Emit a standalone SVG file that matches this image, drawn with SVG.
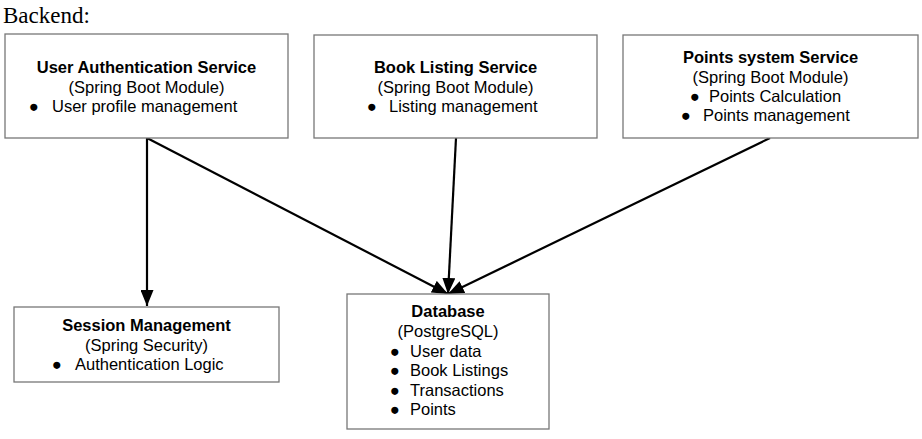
<svg xmlns="http://www.w3.org/2000/svg" width="922" height="439" viewBox="0 0 922 439">
<style>
.box{fill:#fff;stroke:#777;stroke-width:1.3}
text{font-family:"Liberation Sans",Arial,sans-serif;font-size:16.5px;fill:#000}
.t{font-weight:bold;text-anchor:middle}
.c{text-anchor:middle}
.title{font-family:"Liberation Serif","Times New Roman",serif;font-size:23px}
.con{stroke:#000;stroke-width:2.2;fill:none}
</style>
<defs>
<marker id="ah" markerUnits="userSpaceOnUse" markerWidth="17" markerHeight="13" refX="16" refY="6.5" orient="auto">
<path d="M0,0 L16,6.5 L0,13 z" fill="#000"/>
</marker>
</defs>
<text class="title" x="3" y="23">Backend:</text>
<g id="connectors">
<line class="con" x1="147" y1="138" x2="147" y2="306" marker-end="url(#ah)"/>
<line class="con" x1="147" y1="138" x2="448" y2="294" marker-end="url(#ah)"/>
<line class="con" x1="456" y1="138" x2="448" y2="294" marker-end="url(#ah)"/>
<line class="con" x1="770" y1="138" x2="448" y2="294" marker-end="url(#ah)"/>
</g>
<g id="user-auth">
<rect class="box" x="5" y="34" width="283" height="104"/>
<text class="t" x="146.5" y="73">User Authentication Service</text>
<text class="c" x="146.5" y="92.5">(Spring Boot Module)</text>
<text x="29" y="111.5">●</text>
<text x="52" y="111.5">User profile management</text>
</g>
<g id="book-listing">
<rect class="box" x="314" y="35" width="283" height="103"/>
<text class="t" x="455.5" y="73">Book Listing Service</text>
<text class="c" x="455.5" y="92.5">(Spring Boot Module)</text>
<text x="367" y="111.5">●</text>
<text x="389" y="111.5">Listing management</text>
</g>
<g id="points">
<rect class="box" x="623" y="35" width="295" height="103"/>
<text class="t" x="770.5" y="63.3">Points system Service</text>
<text class="c" x="770.5" y="82.7">(Spring Boot Module)</text>
<text x="690" y="101.7">●</text>
<text x="709" y="101.7">Points Calculation</text>
<text x="681" y="121">●</text>
<text x="703" y="121">Points management</text>
</g>
<g id="session">
<rect class="box" x="14" y="307" width="265" height="75"/>
<text class="t" x="146.5" y="330.7">Session Management</text>
<text class="c" x="146.5" y="351">(Spring Security)</text>
<text x="52" y="370">●</text>
<text x="75" y="370">Authentication Logic</text>
</g>
<g id="database">
<rect class="box" x="347" y="294" width="202" height="135"/>
<text class="t" x="448" y="317">Database</text>
<text class="c" x="448" y="337">(PostgreSQL)</text>
<text x="390" y="357">●</text>
<text x="410" y="357">User data</text>
<text x="390" y="376">●</text>
<text x="410" y="376">Book Listings</text>
<text x="390" y="395.5">●</text>
<text x="410" y="395.5">Transactions</text>
<text x="390" y="415">●</text>
<text x="410" y="415">Points</text>
</g>
</svg>
